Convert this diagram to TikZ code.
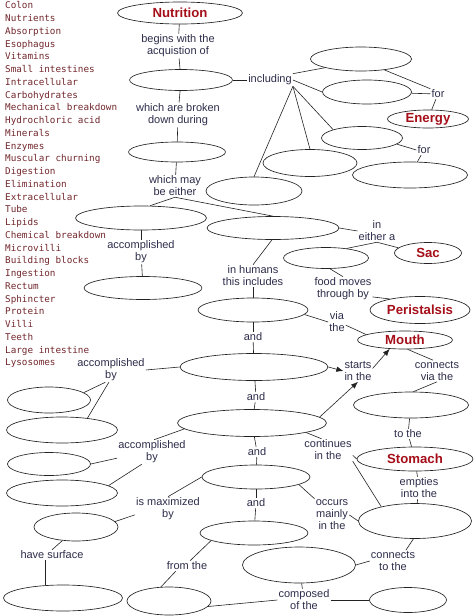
\documentclass[tikz,border=0pt]{standalone}
\usepackage{fontspec}
\setmainfont{Liberation Sans}
\newfontfamily\listfont{DejaVu Sans Mono}
\usetikzlibrary{arrows.meta,shapes.geometric}
\definecolor{mapred}{RGB}{165,15,25}
\definecolor{mapink}{RGB}{45,45,75}
\definecolor{mapline}{RGB}{35,35,35}
\definecolor{listred}{RGB}{115,40,45}
\tikzset{
  >={Latex[length=7pt,width=5.5pt]},
  link/.style={draw=mapline, line width=0.6pt},
  arrowlink/.style={->, draw=mapline, line width=0.6pt},
  dims/.style 2 args={minimum width=#1pt, minimum height=#2pt},
  oval/.style={ellipse, draw=mapline, line width=0.65pt, inner sep=0pt},
  titleoval/.style={oval, text=mapred, font=\fontsize{13.2}{14}\selectfont\bfseries},
  lbl/.style={text=mapink, align=center, inner sep=1pt, font=\fontsize{11}{12}\selectfont},
  term/.style={anchor=base west, inner sep=0pt, text=listred, font=\listfont\fontsize{9.3}{10}\selectfont}
}
\begin{document}
\begin{tikzpicture}[x=1pt,y=-1pt]
  \path[use as bounding box, fill=white] (0,0) rectangle (474,616);

  % word list
  \foreach \w [count=\i from 0] in {Colon,Nutrients,Absorption,Esophagus,Vitamins,
      Small intestines,Intracellular,Carbohydrates,Mechanical breakdown,Hydrochloric acid,
      Minerals,Enzymes,Muscular churning,Digestion,Elimination,Extracellular,Tube,Lipids,
      Chemical breakdown,Microvilli,Building blocks,Ingestion,Rectum,Sphincter,Protein,
      Villi,Teeth,Large intestine,Lysosomes}
    \node[term] (word\i) at (5,8.9+12.75*\i) {\w};

  % ovals
  \node[titleoval,dims={125}{22}] (nutrition) at (180,13) {Nutrition};
  \node[oval,dims={103}{21}] (acquire) at (181,80) {};
  \node[oval,dims={101}{24}] (nutA) at (361,59) {};
  \node[oval,dims={89}{24}] (nutB) at (367,92) {};
  \node[titleoval,dims={81}{18}] (energy) at (428,119) {Energy};
  \node[oval,dims={81}{23}] (nutC) at (362,138) {};
  \node[oval,dims={115}{26}] (blocks) at (410,175) {};
  \node[oval,dims={94}{27}] (nutD) at (310,163) {};
  \node[oval,dims={96}{28}] (nutE) at (254,191) {};
  \node[oval,dims={97}{20}] (breakdown) at (177,152) {};
  \node[oval,dims={131}{24}] (digleft) at (141,218) {};
  \node[oval,dims={118}{23}] (lyso) at (143,288) {};
  \node[oval,dims={132}{23}] (digright) at (273,228) {};
  \node[titleoval,dims={67}{21}] (sac) at (428,253) {Sac};
  \node[oval,dims={85}{21}] (tube) at (326,258) {};
  \node[titleoval,dims={100}{27}] (peristalsis) at (420,310) {Peristalsis};
  \node[oval,dims={110}{24}] (humanA) at (253,310) {};
  \node[titleoval,dims={95}{18}] (mouth) at (405,340) {Mouth};
  \node[oval,dims={148}{27}] (humanB) at (254,367) {};
  \node[oval,dims={115}{26}] (esoph) at (411,405) {};
  \node[oval,dims={149}{27}] (humanC) at (252,423) {};
  \node[titleoval,dims={116}{24}] (stomach) at (415,459) {Stomach};
  \node[oval,dims={108}{24}] (humanD) at (256,477) {};
  \node[oval,dims={113}{35}] (smallint) at (415,521) {};
  \node[oval,dims={108}{24}] (humanE) at (254,533) {};
  \node[oval,dims={113}{36}] (largeint) at (299,565) {};
  \node[oval,dims={77}{25}] (rectum) at (408,600) {};
  \node[oval,dims={83}{26}] (mechA) at (49,400) {};
  \node[oval,dims={111}{26}] (mechB) at (62,430) {};
  \node[oval,dims={83}{23}] (chemA) at (49,464) {};
  \node[oval,dims={111}{26}] (chemB) at (62,493) {};
  \node[oval,dims={84}{28}] (villi) at (76,527) {};
  \node[oval,dims={119}{26}] (micro) at (63,598) {};
  \node[oval,dims={84}{28}] (blood) at (169,601) {};

  % link labels
  \node[lbl] (begins) at (178,46) {begins with the\\acquistion of};
  \node[lbl] (including) at (270,80) {including};
  \node[lbl] (for1) at (438,94) {for};
  \node[lbl] (for2) at (424,150) {for};
  \node[lbl] (broken) at (178,115) {which are broken\\down during};
  \node[lbl] (either) at (175,186) {which may\\be either};
  \node[lbl] (accby1) at (141,252) {accomplished\\by};
  \node[lbl] (ineither) at (377,231) {in\\either a};
  \node[lbl] (moves) at (343,289) {food moves\\through by};
  \node[lbl] (humans) at (253,276) {in humans\\this includes};
  \node[lbl] (via) at (337,322) {via\\the};
  \node[lbl] (and1) at (253,337) {and};
  \node[lbl] (starts) at (358,371) {starts\\in the};
  \node[lbl] (connvia) at (437,371) {connects\\via the};
  \node[lbl] (and2) at (256,397) {and};
  \node[lbl] (accby2) at (111,370) {accomplished\\by};
  \node[lbl] (tothe) at (408,434) {to the};
  \node[lbl] (accby3) at (152,452) {accomplished\\by};
  \node[lbl] (and3) at (257,452) {and};
  \node[lbl] (continues) at (328,450) {continues\\in the};
  \node[lbl] (empties) at (419,488) {empties\\into the};
  \node[lbl] (occurs) at (332,515) {occurs\\mainly\\in the};
  \node[lbl] (and4) at (256,503) {and};
  \node[lbl] (maxby) at (168,509) {is maximized\\by};
  \node[lbl] (surflbl) at (52,555) {have surface};
  \node[lbl] (fromthe) at (187,566) {from the};
  \node[lbl] (connto) at (393,561) {connects\\to the};
  \node[lbl] (composed) at (304,600) {composed\\of the};

  % straight links
  \foreach \a/\b in {nutrition/begins,begins/acquire,acquire/broken,broken/breakdown,
      breakdown/either,acquire/including,nutB/for1,for1/energy,for2/blocks,
      digleft/accby1,accby1/lyso,humans/humanA,humanA/and1,and1/humanB,humanB/and2,
      and2/humanC,humanC/and3,and3/humanD,humanD/and4,and4/humanE,esoph/tothe,
      tothe/stomach,stomach/empties,empties/smallint,largeint/composed}
    \draw[link] (\a) -- (\b);

  % angled links
  \draw[link] (including.north east) -- (nutA.south west);
  \draw[link] (including.east) -- (nutB.west);
  \draw[link] (including.south east) -- (nutC.north west);
  \draw[link] (including.south east) -- (nutD.north);
  \draw[link] (including.south east) -- (nutE.north);
  \draw[link] (nutA.-25) -- (for1.north west);
  \draw[link] (nutC.-10) -- (for2.west);
  \draw[link] (either.south) -- (digleft.54);
  \draw[link] (either.south) -- (digright.north);
  \draw[link] (digright.east) -- (ineither.west);
  \draw[link] (ineither.south) -- (sac.170);
  \draw[link] (ineither.south) -- (tube.25);
  \draw[link] (tube.-70) -- (moves.north);
  \draw[link] (moves.-15) -- (peristalsis.160);
  \draw[link] (digright.-95) -- (humans.north);
  \draw[link] (humanA.-5) -- (via.west);
  \draw[link] (via.-20) -- (mouth.172);
  \draw[arrowlink] (humanB.east) -- (starts.west);
  \draw[arrowlink] (starts.10) -- (mouth.-150);
  \draw[arrowlink] (humanC.5) -- (starts.south);
  \draw[link] (mouth.-75) -- (connvia.110);
  \draw[link] (connvia.south) -- (esoph.80);
  \draw[link] (humanC.-10) -- (continues.120);
  \draw[link] (continues.-12) -- (stomach.west);
  \draw[link] (continues.south east) -- (smallint.157);
  \draw[link] (humanD.-10) -- (occurs.north west);
  \draw[link] (occurs.east) -- (smallint.west);
  \draw[link] (maxby.north) -- (humanD.west);
  \draw[link] (maxby.190) -- (villi.8);
  \draw[link] (villi.-135) -- (surflbl.north);
  \draw[link] (surflbl.south -| micro.145) -- (micro.145);
  \draw[link] (humanE.-170) -- (fromthe.60);
  \draw[link] (fromthe.-155) -- (blood.120);
  \draw[link] (smallint.-95) -- (connto.40);
  \draw[link] (connto.west) -- (largeint.east);
  \draw[link] (composed.west) -- (blood.-8);
  \draw[link] (composed.east) -- (rectum.west);
  \draw[link] (accby2.east) -- (humanB.west);
  \draw[link] (accby2.-115) -- (mechA.12);
  \draw[link] (accby2.-100) -- (mechB.25);
  \draw[link] (accby3.80) -- (humanC.-175);
  \draw[link] (accby3.-170) -- (chemA.east);
  \draw[link] (accby3.-130) -- (chemB.9);
\end{tikzpicture}
\end{document}
